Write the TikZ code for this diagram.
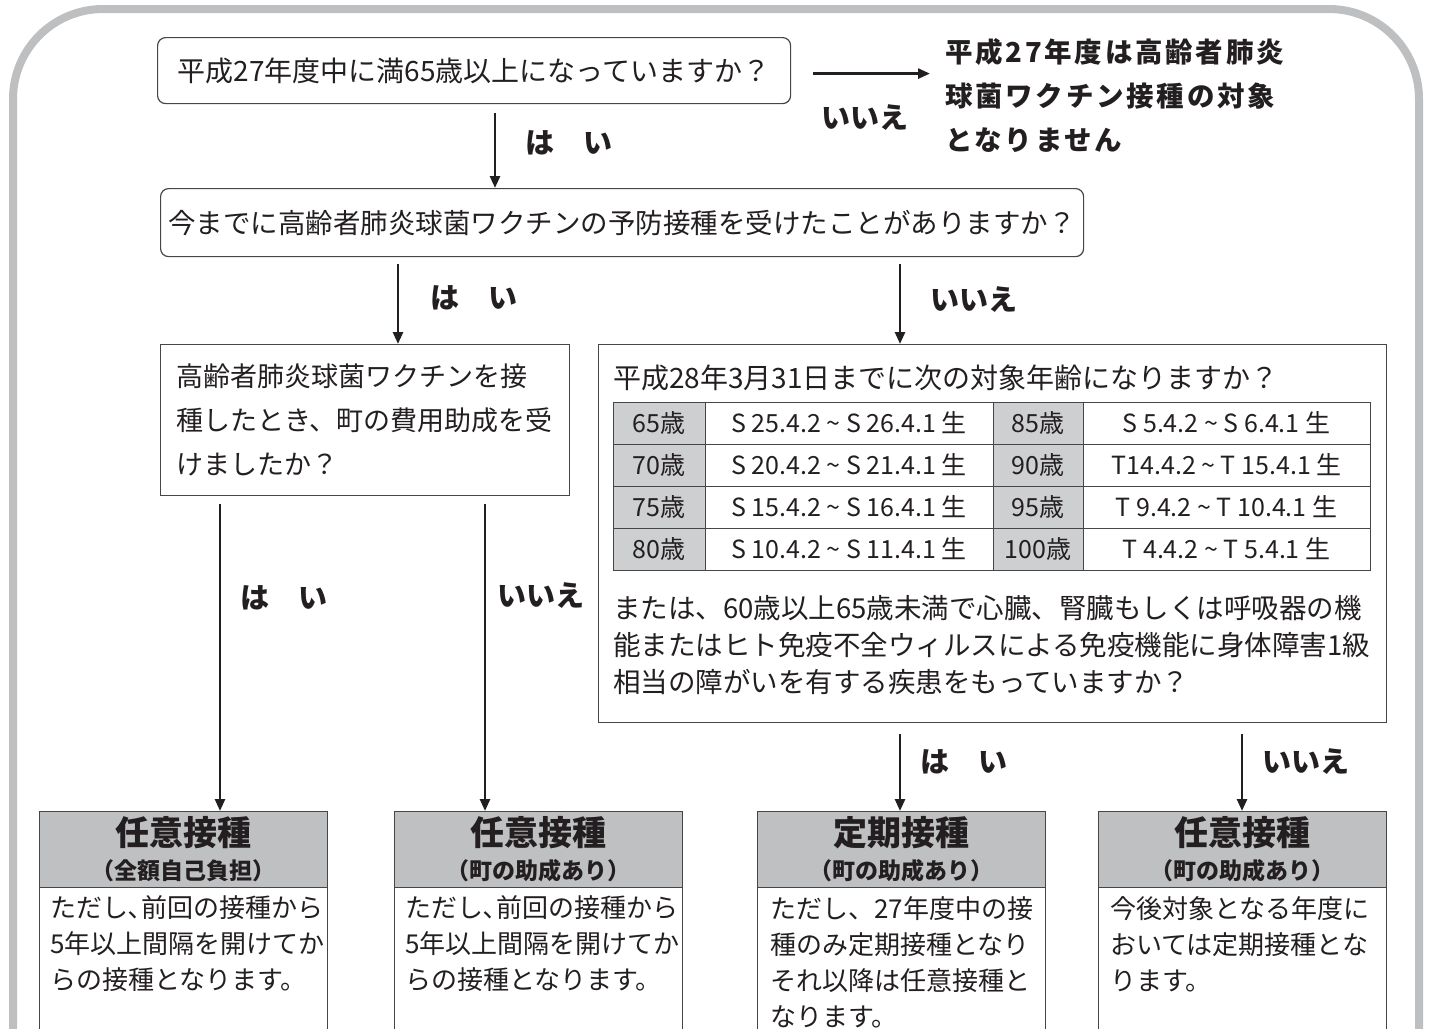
\documentclass[tikz,border=0pt]{standalone}
\usepackage{fontspec}
\setmainfont{Noto Sans CJK JP}
\newfontfamily\jpwide{Noto Sans CJK JP}[LetterSpace=10]
\usetikzlibrary{arrows.meta}
\definecolor{ink}{RGB}{35,31,32}
\definecolor{edge}{RGB}{70,70,70}
\definecolor{framegray}{RGB}{190,191,193}
\definecolor{headgray}{RGB}{191,192,194}
\definecolor{cellgray}{RGB}{206,207,209}
\tikzset{
  qbox/.style={draw=edge, line width=1.2pt, text=ink, inner sep=0pt, anchor=north west, font={\fontsize{27.5}{44}\selectfont}},
  arr/.style={draw=ink, line width=2.6pt, -{Triangle[length=12pt,width=10pt]}},
  lbl/.style={text=ink, anchor=west, inner sep=0pt, font={\fontsize{29}{29}\selectfont\bfseries}},
  cell/.style={draw=edge, line width=1pt, text=ink, minimum height=42pt, inner sep=0pt},
  head/.style={draw=edge, line width=1.2pt, fill=headgray, text=ink, anchor=north west, minimum width=288pt, minimum height=76pt, align=center, inner sep=0pt, font={\fontsize{23}{34}\selectfont\bfseries}},
  body/.style={draw=edge, line width=1.2pt, anchor=north west, minimum width=288pt, minimum height=200pt},
  note/.style={text=ink, anchor=west, align=left, inner sep=0pt, font={\fontsize{26}{36}\selectfont}}
}
\begin{document}
\begin{tikzpicture}[x=1pt,y=-1pt]
\useasboundingbox (0,0) rectangle (1431,1028);
\clip (0,0) rectangle (1431,1028);
% outer frame
\draw[framegray, line width=8pt, rounded corners=90pt] (13,1120) -- (13,9) -- (1419,9) -- (1419,1120);

% questions
\node[qbox, rounded corners=8pt, minimum width=633pt, minimum height=66pt, font={\fontsize{28}{44}\selectfont}] (q1) at (157,37) {平成27年度中に満65歳以上になっていますか？};
\node[text=ink, anchor=west, align=left, inner sep=0pt, font={\jpwide\fontsize{27.5}{44}\selectfont\bfseries}] (res) at (945,96) {平成27年度は高齢者肺炎\\球菌ワクチン接種の対象\\となりません};
\node[qbox, rounded corners=8pt, minimum width=923pt, minimum height=68pt] (q2) at (160,188) {今までに高齢者肺炎球菌ワクチンの予防接種を受けたことがありますか？};
\node[qbox, minimum width=409pt, minimum height=151pt, text width=377pt, align=left, inner xsep=16pt, font={\fontsize{27}{44}\selectfont}] (q3) at (160,344) {高齢者肺炎球菌ワクチンを接\\種したとき、町の費用助成を受\\けましたか？};
\node[qbox, minimum width=788pt, minimum height=378pt] (q4) at (598,344) {};
\node[text=ink, anchor=west, inner sep=0pt, font={\fontsize{28}{28}\selectfont}] (q4t) at (613,378) {平成28年3月31日までに次の対象年齢になりますか？};

% age table
\foreach \r/\agea/\datea/\ageb/\dateb in {
  1/65歳/S 25.4.2 \textasciitilde{} S 26.4.1 生/85歳/S 5.4.2 \textasciitilde{} S 6.4.1 生,
  2/70歳/S 20.4.2 \textasciitilde{} S 21.4.1 生/90歳/T14.4.2 \textasciitilde{} T 15.4.1 生,
  3/75歳/S 15.4.2 \textasciitilde{} S 16.4.1 生/95歳/T 9.4.2 \textasciitilde{} T 10.4.1 生,
  4/80歳/S 10.4.2 \textasciitilde{} S 11.4.1 生/100歳/T 4.4.2 \textasciitilde{} T 5.4.1 生} {
  \node[cell, fill=cellgray, minimum width=92pt, font={\fontsize{25}{25}\selectfont}] (a\r) at (659,381+42*\r) {\agea};
  \node[cell, minimum width=288pt, font={\fontsize{25}{25}\selectfont}] (d\r) at (849,381+42*\r) {\datea};
  \node[cell, fill=cellgray, minimum width=90pt, font={\fontsize{25}{25}\selectfont}] (b\r) at (1038,381+42*\r) {\ageb};
  \node[cell, minimum width=287pt, font={\fontsize{25}{25}\selectfont}] (e\r) at (1226.5,381+42*\r) {\dateb};
}
\node[note, font={\fontsize{27.5}{37}\selectfont}] (q4p) at (613,645) {または、60歳以上65歳未満で心臓、腎臓もしくは呼吸器の機\\能またはヒト免疫不全ウィルスによる免疫機能に身体障害1級\\相当の障がいを有する疾患をもっていますか？};

% results
\node[head] (h1) at (39,811) {{\fontsize{34}{34}\selectfont 任意接種}\\（全額自己負担）};
\node[body] (b1) at (39,887) {};
\node[note] (t1) at (50,944) {ただし､前回の接種から\\5年以上間隔を開けてか\\らの接種となります。};
\node[head] (h2) at (394,811) {{\fontsize{34}{34}\selectfont 任意接種}\\（町の助成あり）};
\node[body] (b2) at (394,887) {};
\node[note] (t2) at (405,944) {ただし､前回の接種から\\5年以上間隔を開けてか\\らの接種となります。};
\node[head] (h3) at (757,811) {{\fontsize{34}{34}\selectfont 定期接種}\\（町の助成あり）};
\node[body] (b3) at (757,887) {};
\node[note] (t3) at (770,962) {ただし、27年度中の接\\種のみ定期接種となり\\それ以降は任意接種と\\なります。};
\node[head] (h4) at (1098,811) {{\fontsize{34}{34}\selectfont 任意接種}\\（町の助成あり）};
\node[body] (b4) at (1098,887) {};
\node[note] (t4) at (1110,944) {今後対象となる年度に\\おいては定期接種とな\\ります。};

% connectors
\coordinate (c1) at (495,0);
\coordinate (c2) at (398,0);
\coordinate (c3) at (900,0);
\coordinate (c4) at (220,0);
\coordinate (c5) at (485,0);
\coordinate (c6) at (1242,0);
\draw[arr, shorten <=22pt, shorten >=15pt] ([yshift=-3pt]q1.east) -- ([yshift=-3pt]q1.east -| res.west);
\draw[arr, shorten <=9pt] (q1.south -| c1) -- (q2.north -| c1);
\draw[arr, shorten <=7pt] (q2.south -| c2) -- (q3.north -| c2);
\draw[arr, shorten <=7pt] (q2.south -| c3) -- (q4.north -| c3);
\draw[arr, shorten <=8pt] (q3.south -| c4) -- (h1.north -| c4);
\draw[arr, shorten <=8pt] (q3.south -| c5) -- (h2.north -| c5);
\draw[arr, shorten <=11pt] (q4.south -| c3) -- (h3.north -| c3);
\draw[arr, shorten <=11pt] (q4.south -| c6) -- (h4.north -| c6);

% labels
\node[lbl] (l1) at (525,143) {は　い};
\node[lbl, anchor=center] (l2) at (865,118) {いいえ};
\node[lbl] (l3) at (430,298) {は　い};
\node[lbl] (l4) at (930,300) {いいえ};
\node[lbl] (l5) at (240,598) {は　い};
\node[lbl] (l6) at (497,596) {いいえ};
\node[lbl] (l7) at (920,762) {は　い};
\node[lbl] (l8) at (1262,762) {いいえ};
\end{tikzpicture}
\end{document}
